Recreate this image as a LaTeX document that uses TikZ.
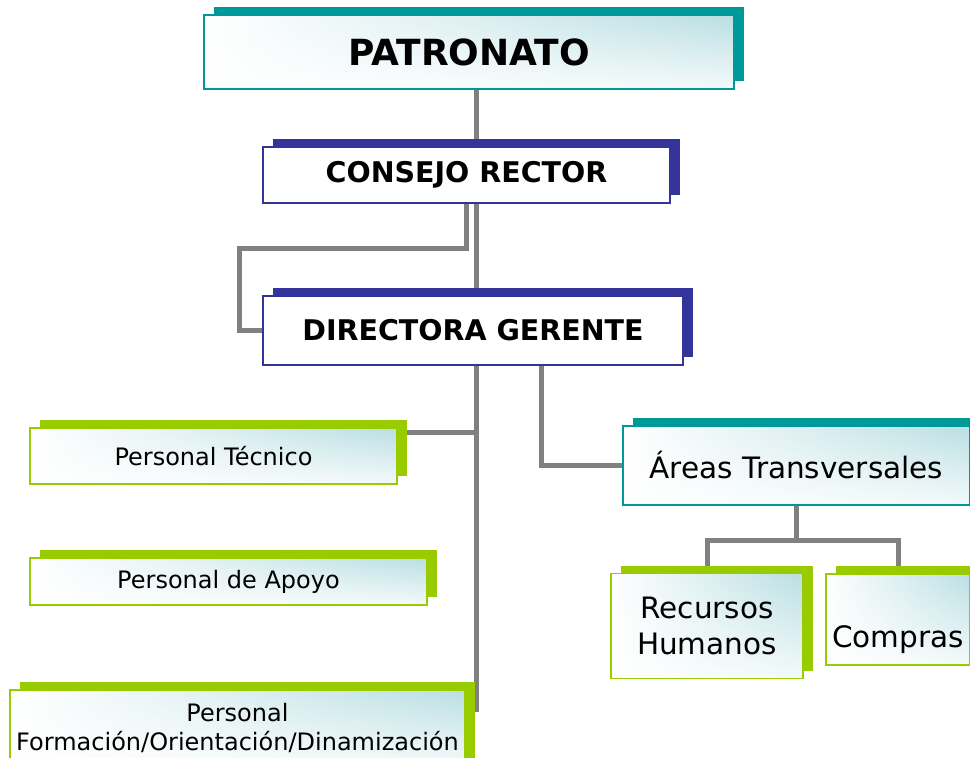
\documentclass[tikz,border=0pt]{standalone}
\usepackage{fontspec}
\setmainfont{DejaVu Sans}
\usetikzlibrary{shadows,fadings,backgrounds}
\definecolor{tealbar}{RGB}{0,153,153}
\definecolor{navybar}{RGB}{51,51,153}
\definecolor{greenbar}{RGB}{153,204,0}
\definecolor{tint}{RGB}{186,223,227}
\definecolor{linkgray}{RGB}{128,128,128}
\tikzfading[name=fadebottom, top color=transparent!100, middle color=transparent!85, bottom color=transparent!15]

\begin{document}
\begin{tikzpicture}[x=1pt,y=-1pt,
  box/.style={rectangle, inner sep=0pt, line width=1.5pt, align=center, text=black},
  tinted/.style={left color=white, middle color=white!40!tint, right color=tint,
    path picture={\fill[white, path fading=fadebottom] (path picture bounding box.south west) rectangle (path picture bounding box.north east);}},
  plain/.style={fill=white},
  bar/.style={general shadow={fill=#1, shadow xshift=10pt, shadow yshift=8pt}, draw=#1},
  small/.style={font=\fontsize{24}{29}\selectfont},
  big/.style={font=\fontsize{29.5}{36}\selectfont},
  head/.style={font=\bfseries\fontsize{28.5}{34}\selectfont},
  conn/.style={draw=linkgray, line width=5pt}]
	\useasboundingbox (0,0) rectangle (970,758);
	\clip (0,0) rectangle (970,758);
	\node[box, bar=tealbar, tinted, minimum width=530, minimum height=74, font=\bfseries\fontsize{36}{42}\selectfont] (patronato) at (469,52) {PATRONATO};
	\node[box, bar=navybar, plain, head, minimum width=407, minimum height=56] (consejo) at (466.5,175) {CONSEJO RECTOR};
	\node[box, bar=navybar, plain, head, minimum width=420, minimum height=69] (directora) at (473,330.5) {DIRECTORA GERENTE};
	\node[box, bar=greenbar, tinted, small, minimum width=367, minimum height=56] (tecnico) at (213.5,456) {Personal Técnico};
	\node[box, bar=greenbar, tinted, small, minimum width=397, minimum height=47] (apoyo) at (228.5,581.5) {Personal de Apoyo};
	\node[box, bar=greenbar, tinted, small, minimum width=455, minimum height=76] (formacion) at (237.5,728) {Personal\\Formación/Orientación/Dinamización};
	\node[box, bar=tealbar, tinted, big, minimum width=347, minimum height=79] (areas) at (796.5,465.5) {Áreas Transversales};
	\node[box, bar=greenbar, tinted, big, minimum width=192, minimum height=105] (recursos) at (707,626) {Recursos\\Humanos};
	\node[box, bar=greenbar, tinted, big, minimum width=144, minimum height=91, text height=62pt] (compras) at (898,619.5) {Compras};
	\begin{scope}[on background layer]
	\coordinate (trunk) at ([xshift=7pt]patronato.south);
	\draw[conn] (trunk) -- (trunk |- formacion.north) -- ++(0,23);
	\draw[conn] (consejo.south) -- ++(0,45) -| ([xshift=-23pt]directora.west) -- (directora.west);
	\draw[conn] ([yshift=-5pt]tecnico.north east) -| (trunk);
	\draw[conn] ([xshift=68pt]directora.south) |- (areas.west);
	\draw[conn] (areas.south) -- ++(0,35) coordinate (split);
	\draw[conn] (recursos.north) |- (split) -| (compras.north);
	\end{scope}
\end{tikzpicture}
\end{document}
